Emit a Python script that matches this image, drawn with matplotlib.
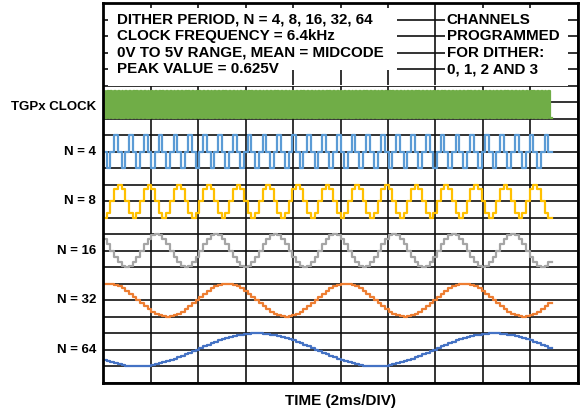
import numpy as np
import matplotlib
matplotlib.use('Agg')
import matplotlib.pyplot as plt
from matplotlib.patches import Rectangle

plt.rcParams['font.family'] = ['Liberation Sans', 'DejaVu Sans']

# clock: 6.4 kHz, one dither code per clock
clock_khz = 6.4
n_clocks = 121
clock_pattern = [1, 0]

# dither code tables (one period, normalised to peak value)
table_n4 = [0, 1, 0, -1]
table_n8 = [0, 0.71, 1, 0.71, 0, -0.71, -1, -0.71]
table_n16 = [0, 0.38, 0.71, 0.92, 1, 0.92, 0.71, 0.38,
             0, -0.38, -0.71, -0.92, -1, -0.92, -0.71, -0.38]
table_n32 = [0, 0.20, 0.38, 0.56, 0.71, 0.83, 0.92, 0.98,
             1, 0.98, 0.92, 0.83, 0.71, 0.56, 0.38, 0.20,
             0, -0.20, -0.38, -0.56, -0.71, -0.83, -0.92, -0.98,
             -1, -0.98, -0.92, -0.83, -0.71, -0.56, -0.38, -0.20]
table_n64 = [0, 0.10, 0.20, 0.29, 0.38, 0.47, 0.56, 0.63,
             0.71, 0.77, 0.83, 0.88, 0.92, 0.96, 0.98, 0.99,
             1, 0.99, 0.98, 0.96, 0.92, 0.88, 0.83, 0.77,
             0.71, 0.63, 0.56, 0.47, 0.38, 0.29, 0.20, 0.10,
             0, -0.10, -0.20, -0.29, -0.38, -0.47, -0.56, -0.63,
             -0.71, -0.77, -0.83, -0.88, -0.92, -0.96, -0.98, -0.99,
             -1, -0.99, -0.98, -0.96, -0.92, -0.88, -0.83, -0.77,
             -0.71, -0.63, -0.56, -0.47, -0.38, -0.29, -0.20, -0.10]

trace_labels = ['N = 4', 'N = 8', 'N = 16', 'N = 32', 'N = 64']
trace_tables = [table_n4, table_n8, table_n16, table_n32, table_n64]
trace_start = [2, 6, 6, 7, 39]   # code index at t = 0
trace_colors = ['#5B9BD5', '#FFC000', '#A5A5A5', '#ED7D31', '#4472C4']
trace_center = [14, 11, 8, 5, 2]  # in grid divisions

left_text = ['DITHER PERIOD, N = 4, 8, 16, 32, 64',
             'CLOCK FREQUENCY = 6.4kHz',
             '0V TO 5V RANGE, MEAN = MIDCODE',
             'PEAK VALUE = 0.625V']
right_text = ['CHANNELS', 'PROGRAMMED', 'FOR DITHER:', '0, 1, 2 AND 3']

fig = plt.figure(figsize=(5.83, 4.12), dpi=100)
ax = fig.add_axes([0.1767, 0.0711, 0.8147, 0.9216])

ax.set_xlim(0, 20)
ax.set_ylim(0, 23)
ax.set_xticks(np.arange(0, 21, 2))
ax.set_yticks(np.arange(0, 24, 1))
ax.tick_params(length=0, labelbottom=False, labelleft=False)
ax.set_axisbelow(True)
ax.grid(True, color='#111111', lw=1.2)
for s in ax.spines.values():
    s.set_linewidth(2)
    s.set_color('black')

# white boxes behind the notes
for x0, x1, y0, y1 in [(0.21, 12.4, 18.92, 22.7), (0.21, 7.87, 18.04, 19.5),
                       (14.4, 19.58, 18.04, 22.7), (0.21, 19.58, 17.95, 18.05)]:
    ax.add_patch(Rectangle((x0, y0), x1 - x0, y1 - y0, facecolor='white',
                           edgecolor='none', zorder=1))

clock_ms = 1 / clock_khz

# TGPx clock
half = clock_ms / 2
clk = np.resize(clock_pattern, 2 * n_clocks)
clk = np.append(clk, clk[-1])
t_clk = np.arange(2 * n_clocks + 1) * half
ax.step(t_clk, 16.05 + 1.6 * clk, where='post', color='#70AD47', lw=1.6, zorder=2)

t = np.arange(n_clocks + 1) * clock_ms
for tab, st, col, c in zip(trace_tables, trace_start, trace_colors, trace_center):
    vals = np.resize(np.roll(tab, -st), n_clocks)
    vals = np.append(vals, vals[-1])
    ax.step(t, c + vals, where='post', color=col, lw=1.6, zorder=2)

# row labels
lab_kw = dict(ha='right', va='center', fontsize=9.5, fontweight='bold', clip_on=False)
ax.text(-0.3, 16.7, 'TGPx CLOCK', **lab_kw)
for lab, c in zip(trace_labels, trace_center):
    ax.text(-0.3, c, lab, **lab_kw)

for i, (lt, rt) in enumerate(zip(left_text, right_text)):
    ax.text(0.58, 22 - i, lt, ha='left', va='center', fontsize=10.9,
            fontweight='bold', zorder=3)
    ax.text(14.47, 22 - i, rt, ha='left', va='center', fontsize=10.9,
            fontweight='bold', zorder=3)

ax.set_xlabel('TIME (2ms/DIV)', fontsize=11, fontweight='bold', labelpad=8)

fig.savefig('out.png', dpi=100)
